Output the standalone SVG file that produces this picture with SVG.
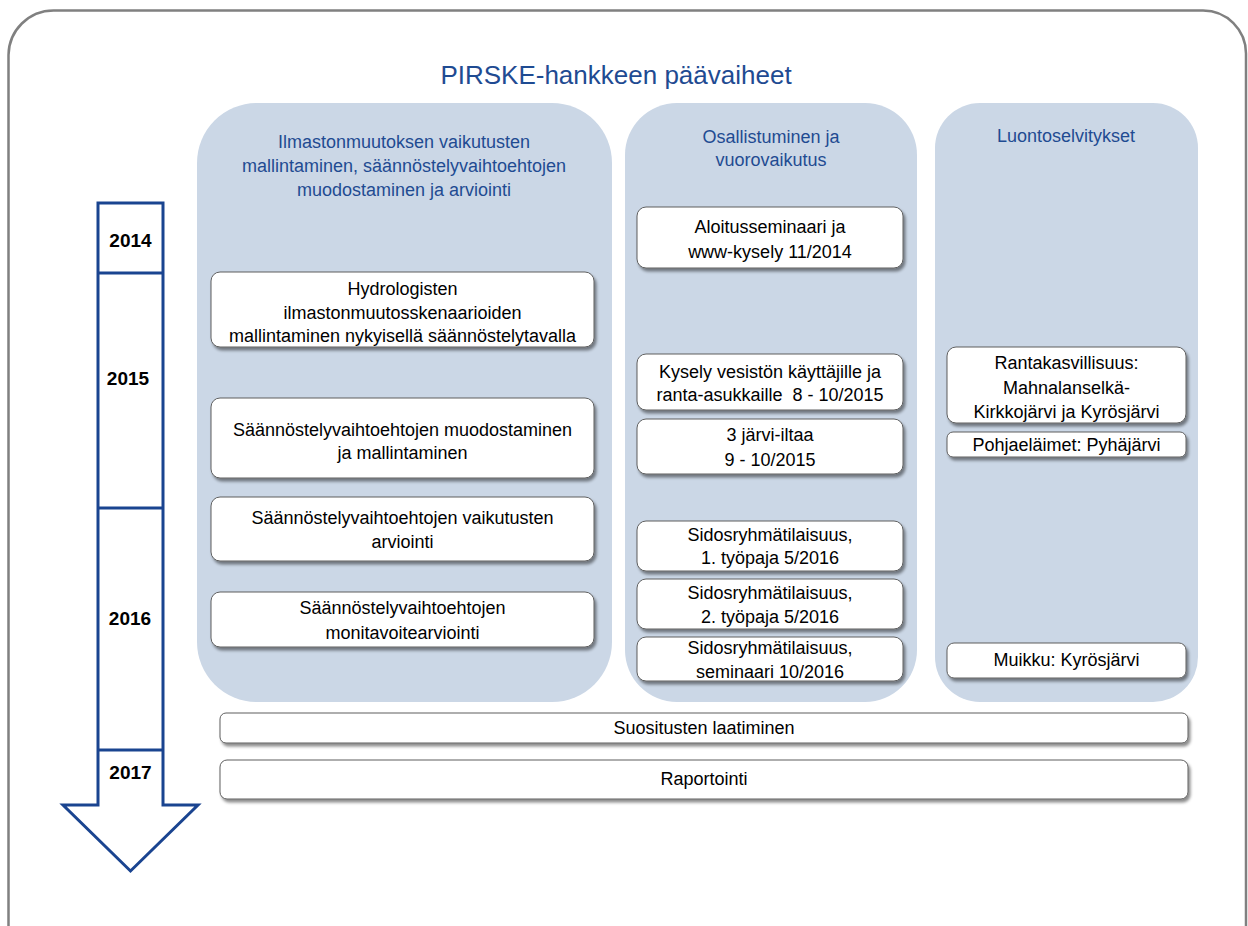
<svg xmlns="http://www.w3.org/2000/svg" width="1248" height="926" viewBox="0 0 1248 926">
<defs>
<filter id="sh" x="-10%" y="-20%" width="120%" height="150%">
<feDropShadow dx="2" dy="3" stdDeviation="1.5" flood-color="#000" flood-opacity="0.45"/>
</filter>
<style>
.frame{fill:none;stroke:#808080;stroke-width:2.5}
.panel{fill:#CBD7E6}
.box{fill:#fff;stroke:#5f5f5f;stroke-width:1;filter:url(#sh)}
.t{font-family:"Liberation Sans",Arial,sans-serif;font-size:18px;fill:#000;text-anchor:middle}
.h{font-family:"Liberation Sans",Arial,sans-serif;font-size:18px;fill:#1F4B92;text-anchor:middle}
.title{font-family:"Liberation Sans",Arial,sans-serif;font-size:26px;fill:#1F4B92;text-anchor:middle}
.yr{font-family:"Liberation Sans",Arial,sans-serif;font-size:19px;font-weight:bold;fill:#000;text-anchor:middle}
.arr{fill:#fff;stroke:#1A4490;stroke-width:3}
.pre{white-space:pre}
</style>
</defs>
<rect width="1248" height="926" fill="#fff"/>
<path class="frame" d="M8.5,926 V55 A45,45 0 0 1 53.5,10.5 H1203 A43,43 0 0 1 1246,53.5 V926"/>
<text class="title" x="616" y="84">PIRSKE-hankkeen päävaiheet</text>

<g id="timeline">
<path class="arr" d="M98,203 H163 V805 H198 L130.5,871 L63,805 H98 Z"/>
<line class="arr" x1="98" y1="273" x2="163" y2="273"/>
<line class="arr" x1="98" y1="508" x2="163" y2="508"/>
<line class="arr" x1="98" y1="750" x2="163" y2="750"/>
<text class="yr" x="130.5" y="247">2014</text>
<text class="yr" x="128" y="385">2015</text>
<text class="yr" x="130" y="625">2016</text>
<text class="yr" x="130.5" y="779">2017</text>
</g>

<g id="panel-mallintaminen">
<rect class="panel" x="197" y="103" width="415" height="599" rx="60"/>
<text class="h" x="404" y="148">Ilmastonmuutoksen vaikutusten</text>
<text class="h" x="404" y="172">mallintaminen, säännöstelyvaihtoehtojen</text>
<text class="h" x="404" y="196">muodostaminen ja arviointi</text>
</g>
<g id="panel-osallistuminen">
<rect class="panel" x="625" y="103" width="292" height="599" rx="52"/>
<text class="h" x="771" y="143">Osallistuminen ja</text>
<text class="h" x="771" y="166">vuorovaikutus</text>
</g>
<g id="panel-luonto">
<rect class="panel" x="935" y="103" width="263" height="599" rx="45"/>
<text class="h" x="1066" y="142">Luontoselvitykset</text>
</g>

<g id="box-hydrologisten">
<rect class="box" x="211" y="272" width="383" height="75" rx="9"/>
<text class="t" x="402.5" y="295">Hydrologisten</text>
<text class="t" x="402.5" y="318.5">ilmastonmuutosskenaarioiden</text>
<text class="t" x="402.5" y="342">mallintaminen nykyisellä säännöstelytavalla</text>
</g>
<g id="box-muodostaminen">
<rect class="box" x="211" y="398" width="383" height="80" rx="9"/>
<text class="t" x="402.5" y="436">Säännöstelyvaihtoehtojen muodostaminen</text>
<text class="t" x="402.5" y="459">ja mallintaminen</text>
</g>
<g id="box-vaikutusten">
<rect class="box" x="211" y="497" width="383" height="64" rx="9"/>
<text class="t" x="402.5" y="524">Säännöstelyvaihtoehtojen vaikutusten</text>
<text class="t" x="402.5" y="548">arviointi</text>
</g>
<g id="box-monitavoite">
<rect class="box" x="211" y="592" width="383" height="55" rx="9"/>
<text class="t" x="402.5" y="614">Säännöstelyvaihtoehtojen</text>
<text class="t" x="402.5" y="639">monitavoitearviointi</text>
</g>

<g id="box-aloitus">
<rect class="box" x="637" y="207" width="266" height="61" rx="9"/>
<text class="t" x="770" y="233">Aloitusseminaari ja</text>
<text class="t" x="770" y="258">www-kysely 11/2014</text>
</g>
<g id="box-kysely">
<rect class="box" x="637" y="354" width="266" height="56" rx="9"/>
<text class="t" x="770" y="378">Kysely vesistön käyttäjille ja</text>
<text class="t pre" x="770" y="401">ranta-asukkaille  8 - 10/2015</text>
</g>
<g id="box-jarviillat">
<rect class="box" x="637" y="419" width="266" height="55" rx="9"/>
<text class="t" x="770" y="441">3 järvi-iltaa</text>
<text class="t" x="770" y="466">9 - 10/2015</text>
</g>
<g id="box-tyopaja1">
<rect class="box" x="637" y="521" width="266" height="50" rx="9"/>
<text class="t" x="770" y="541">Sidosryhmätilaisuus,</text>
<text class="t" x="770" y="564">1. työpaja 5/2016</text>
</g>
<g id="box-tyopaja2">
<rect class="box" x="637" y="579" width="266" height="50" rx="9"/>
<text class="t" x="770" y="599">Sidosryhmätilaisuus,</text>
<text class="t" x="770" y="623">2. työpaja 5/2016</text>
</g>
<g id="box-seminaari">
<rect class="box" x="637" y="637" width="266" height="44" rx="9"/>
<text class="t" x="770" y="654">Sidosryhmätilaisuus,</text>
<text class="t" x="770" y="678">seminaari 10/2016</text>
</g>

<g id="box-rantakasvillisuus">
<rect class="box" x="947" y="347" width="239" height="76" rx="9"/>
<text class="t" x="1066.5" y="369">Rantakasvillisuus:</text>
<text class="t" x="1066.5" y="394">Mahnalanselkä-</text>
<text class="t" x="1066.5" y="418">Kirkkojärvi ja Kyrösjärvi</text>
</g>
<g id="box-pohjaelaimet">
<rect class="box" x="947" y="432" width="239" height="25" rx="6"/>
<text class="t" x="1066.5" y="451">Pohjaeläimet: Pyhäjärvi</text>
</g>
<g id="box-muikku">
<rect class="box" x="947" y="643" width="239" height="35" rx="7"/>
<text class="t" x="1066.5" y="666">Muikku: Kyrösjärvi</text>
</g>

<g id="box-suositusten">
<rect class="box" x="220" y="713" width="968" height="30" rx="6"/>
<text class="t" x="704" y="734">Suositusten laatiminen</text>
</g>
<g id="box-raportointi">
<rect class="box" x="220" y="760" width="968" height="39" rx="7"/>
<text class="t" x="704" y="785">Raportointi</text>
</g>
</svg>
